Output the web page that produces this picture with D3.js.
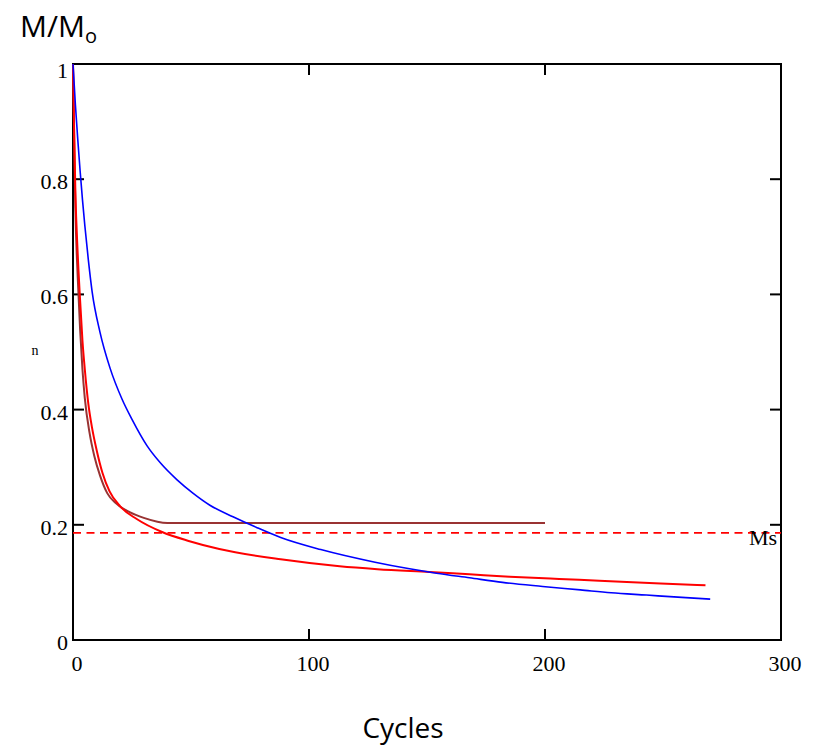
<!DOCTYPE html>
<html>
<head>
<meta charset="utf-8">
<script src="https://cdn.jsdelivr.net/npm/d3@7"></script>
<style>
  body { margin: 0; background: #fff; }
  .tick-label { font-family: "Liberation Serif", "DejaVu Serif", serif; font-size: 22px; fill: #000; }
  .title { font-family: "Open Sans", "Noto Sans", sans-serif; fill: #000; }
</style>
</head>
<body>
<script>
// data (cycles, M/Mo)
const blueCycles = [0, 1, 2, 3, 4, 5, 6.5, 8.1, 11.4, 15.7, 20.8, 25, 31.4, 36.9, 44.1, 50.8, 58, 67.8, 78, 88, 105, 128, 142, 154, 168, 182, 199, 215, 228, 243, 258, 270];
const blueValues = [1, 0.93, 0.87, 0.815, 0.765, 0.72, 0.66, 0.605, 0.535, 0.472, 0.418, 0.383, 0.337, 0.308, 0.278, 0.255, 0.234, 0.214, 0.195, 0.178, 0.157, 0.135, 0.124, 0.116, 0.108, 0.1, 0.093, 0.087, 0.082, 0.078, 0.074, 0.071];

const redCycles = [0, 0.5, 1, 2, 3, 4, 5, 6.5, 8, 10, 12.5, 15.5, 20, 27, 38, 49, 62, 88, 113, 129, 151, 168, 185, 206, 223, 249, 268];
const redValues = [1, 0.88, 0.78, 0.67, 0.59, 0.52, 0.47, 0.41, 0.37, 0.33, 0.29, 0.258, 0.232, 0.21, 0.187, 0.172, 0.158, 0.14, 0.128, 0.123, 0.118, 0.114, 0.11, 0.106, 0.103, 0.098, 0.095];

const brownCycles = [0, 0.5, 1, 2, 3, 4, 5, 7, 9, 11.5, 14.5, 18, 24, 30, 40, 200];
const brownValues = [1, 0.87, 0.75, 0.63, 0.54, 0.47, 0.42, 0.36, 0.32, 0.285, 0.255, 0.238, 0.222, 0.212, 0.203, 0.203];

const msValue = 0.186;
const xTicks = [0, 100, 200, 300];
const yTicks = [0, 0.2, 0.4, 0.6, 0.8, 1];

const width = 823, height = 749;
const svg = d3.select("body").append("svg")
              .attr("width", width)
              .attr("height", height);

const x = d3.scaleLinear().domain([0, 300]).range([73, 781]);
const y = d3.scaleLinear().domain([0, 1]).range([640, 64]);
const tickLen = 11;

// frame
svg.append("rect")
   .attr("x", x(0)).attr("y", y(1))
   .attr("width", x(300) - x(0)).attr("height", y(0) - y(1))
   .attr("fill", "none").attr("stroke", "#000").attr("stroke-width", 2);

// inward ticks, all four sides
const axisG = svg.append("g").attr("stroke", "#000").attr("stroke-width", 2);
xTicks.slice(1, -1).forEach(t => {
  axisG.append("line").attr("x1", x(t)).attr("x2", x(t)).attr("y1", y(0)).attr("y2", y(0) - tickLen);
  axisG.append("line").attr("x1", x(t)).attr("x2", x(t)).attr("y1", y(1)).attr("y2", y(1) + tickLen);
});
yTicks.slice(1, -1).forEach(t => {
  axisG.append("line").attr("x1", x(0)).attr("x2", x(0) + tickLen).attr("y1", y(t)).attr("y2", y(t));
  axisG.append("line").attr("x1", x(300)).attr("x2", x(300) - tickLen).attr("y1", y(t)).attr("y2", y(t));
});

// tick labels
svg.selectAll(".xl").data(xTicks).enter().append("text")
   .attr("class", "tick-label")
   .attr("x", d => x(d) + 4)
   .attr("y", 671)
   .attr("text-anchor", "middle")
   .text(d => d);

svg.selectAll(".yl").data(yTicks).enter().append("text")
   .attr("class", "tick-label")
   .attr("x", 68)
   .attr("y", d => Math.max(y(d), 68) + 10)
   .attr("text-anchor", "end")
   .text(d => d);

// Ms reference line
svg.append("line")
   .attr("x1", x(0)).attr("x2", x(300))
   .attr("y1", y(msValue)).attr("y2", y(msValue))
   .attr("stroke", "#ff0000").attr("stroke-width", 1.6)
   .attr("stroke-dasharray", "8,5.5");

svg.append("text")
   .attr("class", "tick-label")
   .attr("x", 777).attr("y", 545)
   .attr("text-anchor", "end")
   .text("Ms");

// curves
const line = d3.line()
               .x(d => x(d[0]))
               .y(d => y(d[1]))
               .curve(d3.curveMonotoneX);

const series = [
  {c: brownCycles, v: brownValues, color: "#993333", w: 2},
  {c: redCycles, v: redValues, color: "#ff0000", w: 2},
  {c: blueCycles, v: blueValues, color: "#0000ff", w: 1.6}
];
series.forEach(s => {
  svg.append("path")
     .attr("fill", "none")
     .attr("stroke", s.color)
     .attr("stroke-width", s.w)
     .attr("d", line(s.c.map((c, i) => [c, s.v[i]])));
});

// axis titles
const yt = svg.append("text").attr("class", "title")
              .attr("x", 20).attr("y", 37)
              .attr("font-size", 30);
yt.append("tspan").text("M/M");
yt.append("tspan").attr("font-size", 20).attr("dy", 6).text("o");

svg.append("text").attr("class", "title")
   .attr("x", 403).attr("y", 738)
   .attr("text-anchor", "middle")
   .attr("font-size", 28)
   .text("Cycles");

svg.append("text")
   .attr("x", 35).attr("y", 355)
   .attr("text-anchor", "middle")
   .attr("font-family", "Liberation Serif, serif")
   .attr("font-size", 14)
   .text("n");
</script>
</body>
</html>
